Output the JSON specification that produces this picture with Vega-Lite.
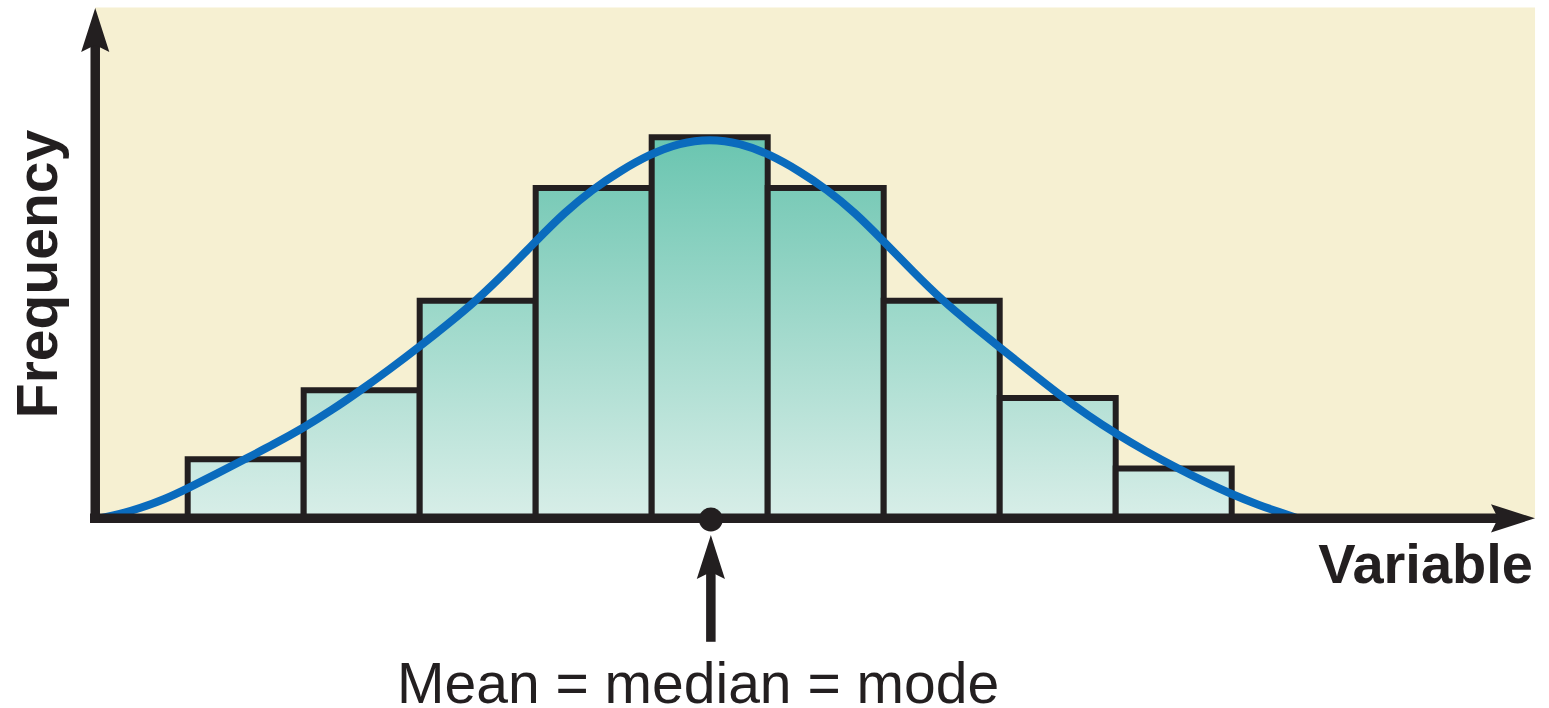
{
  "$schema": "https://vega.github.io/schema/vega-lite/v6.json",
  "width": 1549,
  "height": 708,
  "padding": 0,
  "autosize": {"type": "none"},
  "background": "white",
  "config": {"view": {"stroke": null}},
  "datasets": {
    "bars": [
      {"bin_start": -4.5, "bin_end": -3.5, "frequency": 15.5},
      {"bin_start": -3.5, "bin_end": -2.5, "frequency": 33.6},
      {"bin_start": -2.5, "bin_end": -1.5, "frequency": 57.1},
      {"bin_start": -1.5, "bin_end": -0.5, "frequency": 86.7},
      {"bin_start": -0.5, "bin_end": 0.5, "frequency": 100},
      {"bin_start": 0.5, "bin_end": 1.5, "frequency": 86.7},
      {"bin_start": 1.5, "bin_end": 2.5, "frequency": 57.1},
      {"bin_start": 2.5, "bin_end": 3.5, "frequency": 31.6},
      {"bin_start": 3.5, "bin_end": 4.5, "frequency": 13.1}
    ],
    "curve": [
      {"value": -5.259, "density": 0},
      {"value": -5.086, "density": 1.05},
      {"value": -4.914, "density": 2.62},
      {"value": -4.698, "density": 4.99},
      {"value": -4.5, "density": 7.87},
      {"value": -4.259, "density": 11.55},
      {"value": -4.009, "density": 15.49},
      {"value": -3.759, "density": 19.42},
      {"value": -3.509, "density": 23.62},
      {"value": -3.259, "density": 28.35},
      {"value": -3.009, "density": 33.6},
      {"value": -2.759, "density": 39.11},
      {"value": -2.509, "density": 44.88},
      {"value": -2.259, "density": 50.92},
      {"value": -2.009, "density": 57.22},
      {"value": -1.75, "density": 64.83},
      {"value": -1.5, "density": 72.7},
      {"value": -1.25, "density": 80.31},
      {"value": -1.009, "density": 86.35},
      {"value": -0.776, "density": 91.08},
      {"value": -0.517, "density": 95.54},
      {"value": -0.259, "density": 98.56},
      {"value": 0, "density": 99.61},
      {"value": 0.259, "density": 98.56},
      {"value": 0.517, "density": 95.54},
      {"value": 0.776, "density": 91.08},
      {"value": 1.009, "density": 86.35},
      {"value": 1.25, "density": 80.31},
      {"value": 1.5, "density": 72.7},
      {"value": 1.75, "density": 64.83},
      {"value": 2.009, "density": 57.09},
      {"value": 2.259, "density": 50.79},
      {"value": 2.5, "density": 44.88},
      {"value": 2.759, "density": 38.58},
      {"value": 3.009, "density": 32.55},
      {"value": 3.259, "density": 27.03},
      {"value": 3.509, "density": 22.05},
      {"value": 3.759, "density": 17.59},
      {"value": 4.017, "density": 13.39},
      {"value": 4.259, "density": 9.71},
      {"value": 4.5, "density": 6.3},
      {"value": 4.741, "density": 3.41},
      {"value": 4.914, "density": 1.57},
      {"value": 5.069, "density": 0}
    ]
  },
  "layer": [
    {
      "data": {"values": [{}]},
      "mark": {"type": "rect", "fill": "#F6F0D2"},
      "encoding": {
        "x": {"datum": -5.299, "type": "quantitative", "axis": null, "scale": {"domain": [-6.118, 7.2353], "nice": false, "zero": false}},
        "x2": {"datum": 7.115},
        "y": {"datum": 0, "type": "quantitative", "axis": null, "scale": {"domain": [-49.79, 136.04], "nice": false, "zero": false}},
        "y2": {"datum": 134.07}
      }
    },
    {
      "data": {"name": "bars"},
      "mark": {"type": "rect", "stroke": "#231F20", "strokeWidth": 6},
      "encoding": {
        "x": {"field": "bin_start", "type": "quantitative", "axis": null, "scale": {"domain": [-6.118, 7.2353], "nice": false, "zero": false}},
        "x2": {"field": "bin_end"},
        "y": {"field": "frequency", "type": "quantitative", "axis": null, "scale": {"domain": [-49.79, 136.04], "nice": false, "zero": false}},
        "y2": {"datum": 0},
        "fill": {
          "condition": [
            {"test": "datum.frequency >= 95", "value": {"gradient": "linear", "x1": 0, "y1": 0, "x2": 0, "y2": 1, "stops": [{"offset": 0, "color": "#6AC5B0"}, {"offset": 1, "color": "#D8EEE8"}]}},
            {"test": "datum.frequency >= 80", "value": {"gradient": "linear", "x1": 0, "y1": 0, "x2": 0, "y2": 1, "stops": [{"offset": 0, "color": "#79CAB7"}, {"offset": 1, "color": "#D8EEE8"}]}},
            {"test": "datum.frequency >= 50", "value": {"gradient": "linear", "x1": 0, "y1": 0, "x2": 0, "y2": 1, "stops": [{"offset": 0, "color": "#99D7C8"}, {"offset": 1, "color": "#D8EEE8"}]}},
            {"test": "datum.frequency >= 25", "value": {"gradient": "linear", "x1": 0, "y1": 0, "x2": 0, "y2": 1, "stops": [{"offset": 0, "color": "#B4E0D5"}, {"offset": 1, "color": "#D8EEE8"}]}}
          ],
          "value": {"gradient": "linear", "x1": 0, "y1": 0, "x2": 0, "y2": 1, "stops": [{"offset": 0, "color": "#C8E8E0"}, {"offset": 1, "color": "#D8EEE8"}]}
        }
      }
    },
    {
      "data": {"name": "curve"},
      "mark": {"type": "line", "stroke": "#0A6BBD", "strokeWidth": 8, "interpolate": "basis"},
      "encoding": {
        "x": {"field": "value", "type": "quantitative", "axis": null, "scale": {"domain": [-6.118, 7.2353], "nice": false, "zero": false}},
        "y": {"field": "density", "type": "quantitative", "axis": null, "scale": {"domain": [-49.79, 136.04], "nice": false, "zero": false}}
      }
    },
    {
      "data": {"values": [{}]},
      "mark": {"type": "rule", "color": "#231F20", "strokeWidth": 9.5, "strokeCap": "butt"},
      "encoding": {
        "x": {"datum": -5.342, "type": "quantitative", "axis": null, "scale": {"domain": [-6.118, 7.2353], "nice": false, "zero": false}},
        "x2": {"datum": 6.899},
        "y": {"datum": 0, "type": "quantitative", "axis": null, "scale": {"domain": [-49.79, 136.04], "nice": false, "zero": false}}
      }
    },
    {
      "data": {"values": [{}]},
      "mark": {"type": "rule", "color": "#231F20", "strokeWidth": 9.5, "strokeCap": "butt"},
      "encoding": {
        "x": {"datum": -5.297, "type": "quantitative", "axis": null, "scale": {"domain": [-6.118, 7.2353], "nice": false, "zero": false}},
        "y": {"datum": -1.23, "type": "quantitative", "axis": null, "scale": {"domain": [-49.79, 136.04], "nice": false, "zero": false}},
        "y2": {"datum": 125.5}
      }
    },
    {
      "data": {"values": [{}]},
      "mark": {"type": "point", "shape": "M0,-1L0.64,1L0,0.68L-0.64,1Z", "filled": true, "color": "#231F20", "opacity": 1, "size": 1936, "angle": 0},
      "encoding": {
        "x": {"datum": -5.297, "type": "quantitative", "axis": null, "scale": {"domain": [-6.118, 7.2353], "nice": false, "zero": false}},
        "y": {"datum": 128.16, "type": "quantitative", "axis": null, "scale": {"domain": [-49.79, 136.04], "nice": false, "zero": false}}
      }
    },
    {
      "data": {"values": [{}]},
      "mark": {"type": "point", "shape": "M0,-1L0.64,1L0,0.68L-0.64,1Z", "filled": true, "color": "#231F20", "opacity": 1, "size": 1936, "angle": 90},
      "encoding": {
        "x": {"datum": 6.925, "type": "quantitative", "axis": null, "scale": {"domain": [-6.118, 7.2353], "nice": false, "zero": false}},
        "y": {"datum": 0, "type": "quantitative", "axis": null, "scale": {"domain": [-49.79, 136.04], "nice": false, "zero": false}}
      }
    },
    {
      "data": {"values": [{}]},
      "mark": {"type": "point", "shape": "circle", "filled": true, "color": "#231F20", "opacity": 1, "size": 570},
      "encoding": {
        "x": {"datum": 0.01, "type": "quantitative", "axis": null, "scale": {"domain": [-6.118, 7.2353], "nice": false, "zero": false}},
        "y": {"datum": -0.31, "type": "quantitative", "axis": null, "scale": {"domain": [-49.79, 136.04], "nice": false, "zero": false}}
      }
    },
    {
      "data": {"values": [{}]},
      "mark": {"type": "rule", "color": "#231F20", "strokeWidth": 9.5, "strokeCap": "butt"},
      "encoding": {
        "x": {"datum": 0.01, "type": "quantitative", "axis": null, "scale": {"domain": [-6.118, 7.2353], "nice": false, "zero": false}},
        "y": {"datum": -12.24, "type": "quantitative", "axis": null, "scale": {"domain": [-49.79, 136.04], "nice": false, "zero": false}},
        "y2": {"datum": -32.41}
      }
    },
    {
      "data": {"values": [{}]},
      "mark": {"type": "point", "shape": "M0,-1L0.64,1L0,0.68L-0.64,1Z", "filled": true, "color": "#231F20", "opacity": 1, "size": 1936, "angle": 0},
      "encoding": {
        "x": {"datum": 0.01, "type": "quantitative", "axis": null, "scale": {"domain": [-6.118, 7.2353], "nice": false, "zero": false}},
        "y": {"datum": -10.16, "type": "quantitative", "axis": null, "scale": {"domain": [-49.79, 136.04], "nice": false, "zero": false}}
      }
    },
    {
      "data": {"values": [{}]},
      "mark": {"type": "text", "text": "Mean = median = mode", "font": "Liberation Sans", "fontSize": 57, "fill": "#231F20", "align": "center", "baseline": "alphabetic"},
      "encoding": {
        "x": {"datum": -0.1, "type": "quantitative", "axis": null, "scale": {"domain": [-6.118, 7.2353], "nice": false, "zero": false}},
        "y": {"datum": -48.6, "type": "quantitative", "axis": null, "scale": {"domain": [-49.79, 136.04], "nice": false, "zero": false}}
      }
    },
    {
      "data": {"values": [{}]},
      "mark": {"type": "text", "text": "Variable", "font": "Liberation Sans", "fontSize": 56, "fontWeight": "bold", "fill": "#231F20", "align": "right", "baseline": "alphabetic"},
      "encoding": {
        "x": {"datum": 7.097, "type": "quantitative", "axis": null, "scale": {"domain": [-6.118, 7.2353], "nice": false, "zero": false}},
        "y": {"datum": -16.98, "type": "quantitative", "axis": null, "scale": {"domain": [-49.79, 136.04], "nice": false, "zero": false}}
      }
    },
    {
      "data": {"values": [{}]},
      "mark": {"type": "text", "text": "Frequency", "font": "Liberation Sans", "fontSize": 57, "fontWeight": "bold", "fill": "#231F20", "align": "center", "baseline": "alphabetic", "angle": 270},
      "encoding": {
        "x": {"datum": -5.627, "type": "quantitative", "axis": null, "scale": {"domain": [-6.118, 7.2353], "nice": false, "zero": false}},
        "y": {"datum": 64.12, "type": "quantitative", "axis": null, "scale": {"domain": [-49.79, 136.04], "nice": false, "zero": false}}
      }
    }
  ]
}
